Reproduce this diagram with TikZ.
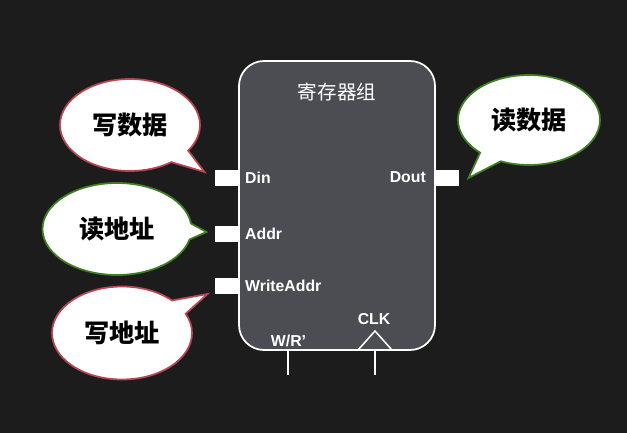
\documentclass[tikz,border=0pt]{standalone}
\usepackage{fontspec}
\setmainfont{Liberation Sans}
\newfontfamily\cjk{Noto Sans CJK SC}
\usepackage{tikz}
\usetikzlibrary{positioning,calc,shapes.callouts}
\definecolor{bgdark}{RGB}{28,28,28}
\definecolor{boxgray}{RGB}{75,77,83}
\definecolor{wred}{RGB}{185,70,82}
\definecolor{rgreen}{RGB}{62,128,34}

\begin{document}
\begin{tikzpicture}[x=0.03cm,y=-0.03cm,
    port/.style={fill=white,minimum width=0.72cm,minimum height=0.47cm,inner sep=0pt},
    plabel/.style={text=white,font=\bfseries\fontsize{13.5}{14}\selectfont,inner sep=0pt},
    bubble/.style={ellipse callout,fill=white,line width=1.5pt,callout pointer arc=20,
        inner sep=0pt,font=\cjk\bfseries\fontsize{21.5}{22}\selectfont},
    wbubble/.style={bubble,draw=wred},
    rbubble/.style={bubble,draw=rgreen},
    wire/.style={white,line width=1.5pt}]
    \fill[bgdark] (0,0) rectangle (627,433);
    \useasboundingbox (0,0) rectangle (627,433);

    \node[draw=white,line width=1.5pt,fill=boxgray,rounded corners=0.75cm,
          minimum width=5.88cm,minimum height=8.67cm] (regfile) at (337,205.5) {};
    \node[text=white,font=\cjk\fontsize{16.7}{18}\selectfont] (title) at (337,92) {寄存器组};

    \node[port,anchor=east] (din) at (239,178) {};
    \node[port,anchor=east] (addr) at (239,234) {};
    \node[port,anchor=east] (waddr) at (239,286) {};
    \node[port,anchor=west] (dout) at (435,178) {};

    \node[plabel,anchor=west] (dinlbl) at (245,178) {Din};
    \node[plabel,anchor=west] (addrlbl) at (245,234) {Addr};
    \node[plabel,anchor=west] (waddrlbl) at (245,286) {WriteAddr};
    \node[plabel,anchor=east] (doutlbl) at (426,177) {Dout};
    \node[plabel] (wrlbl) at (288.5,341) {W/R'};
    \node[plabel] (clklbl) at (374,319) {CLK};

    \coordinate (wr) at (288,350);
    \coordinate (wrend) at (288,375);
    \coordinate (clk) at (375,350);
    \coordinate (clkend) at (375,375);
    \draw[wire] (wr) -- (wrend);
    \draw[wire] (clk) -- (clkend);
    \draw[white,line width=1.3pt] (358,350) -- (375,331) -- (392,350);

    \node[wbubble,minimum width=4.2cm,minimum height=2.76cm,
          callout absolute pointer={($(din.west)+(-10,-6)$)}] (wdata) at (130,125) {写数据};
    \node[rbubble,minimum width=4.47cm,minimum height=2.76cm,
          callout absolute pointer={($(addr.west)+(-8,-2)$)}] (raddr) at (117,229) {读地址};
    \node[wbubble,minimum width=4.2cm,minimum height=2.79cm,
          callout absolute pointer={($(waddr.west)+(-7,8)$)}] (wraddr) at (122,333) {写地址};
    \node[rbubble,minimum width=4.26cm,minimum height=2.7cm,
          callout absolute pointer={($(dout.east)+(9,0)$)}] (rdata) at (529,120) {读数据};
\end{tikzpicture}
\end{document}
